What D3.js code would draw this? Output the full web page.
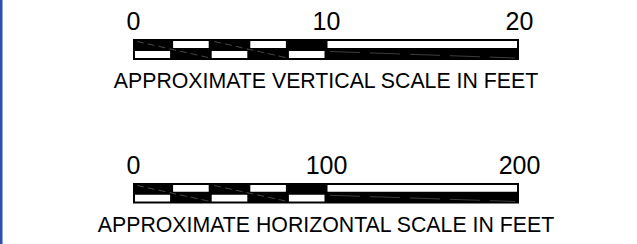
<!DOCTYPE html>
<html>
<head>
<meta charset="utf-8">
<script src="https://cdn.jsdelivr.net/npm/d3@7"></script>
<style>
  body { margin: 0; background: #fff; }
  svg text { font-family: Arial, "Liberation Sans", sans-serif; fill: #000; }
</style>
</head>
<body>
<div id="chart"></div>
<script>
const W = 637, H = 244;

// scale bar data
const verticalTicks = [0, 10, 20];
const verticalDivisions = [0, 2, 4, 6, 8, 10];
const verticalTitle = "APPROXIMATE VERTICAL SCALE IN FEET";

const horizontalTicks = [0, 100, 200];
const horizontalDivisions = [0, 20, 40, 60, 80, 100];
const horizontalTitle = "APPROXIMATE HORIZONTAL SCALE IN FEET";

const svg = d3.select("#chart")
	.append("svg")
	.attr("width", W)
	.attr("height", H);

svg.append("rect")
	.attr("width", W)
	.attr("height", H)
	.attr("fill", "#fff");

// blue frame edge on the left
svg.append("rect")
	.attr("x", 0)
	.attr("y", 0)
	.attr("width", 2.5)
	.attr("height", H)
	.attr("fill", "#2f4fb0");

function drawScaleBar(g, ticks, divisions, title, top, barH) {
	const x = d3.scaleLinear()
		.domain(d3.extent(ticks))
		.range([133, 519]);
	const mid = top + barH / 2;
	const bottom = top + barH;

	// tick labels
	const axis = d3.axisTop(x)
		.tickValues(ticks)
		.tickSize(0)
		.tickPadding(0)
		.tickFormat(d3.format("d"));
	const ax = g.append("g")
		.attr("transform", "translate(0," + (top - 9) + ")")
		.call(axis);
	ax.select(".domain").remove();
	ax.selectAll("text")
		.attr("dy", 0)
		.style("font-family", "Arial, 'Liberation Sans', sans-serif")
		.style("font-size", "25px")
		.attr("fill", "#000");

	// outer black bar
	g.append("rect")
		.attr("x", x(ticks[0]))
		.attr("y", top)
		.attr("width", x(ticks[2]) - x(ticks[0]))
		.attr("height", barH)
		.attr("fill", "#000");

	// alternating white cells in the first half
	const cells = d3.pairs(divisions).map((p, i) => ({a: p[0], b: p[1], i: i}));
	g.selectAll(".cell")
		.data(cells)
		.enter().append("rect")
		.attr("class", "cell")
		.attr("x", d => x(d.a) + (d.i === 0 ? 2 : 1.5))
		.attr("y", d => d.i % 2 === 0 ? mid + 1.5 : top + 2)
		.attr("width", d => x(d.b) - x(d.a) - (d.i === 0 ? 3.5 : 3))
		.attr("height", barH / 2 - 3.5)
		.attr("fill", "#fff");

	// second half: white on top
	g.append("rect")
		.attr("x", x(divisions[divisions.length - 1]) + 1.5)
		.attr("y", top + 2)
		.attr("width", x(ticks[2]) - x(divisions[divisions.length - 1]) - 3.5)
		.attr("height", barH / 2 - 3.5)
		.attr("fill", "#fff");

	// faint hatch lines left in the black cells
	const pairs = [];
	for (let i = 0; i + 2 < divisions.length; i += 2) pairs.push([divisions[i], divisions[i + 2]]);
	g.selectAll(".hatch")
		.data(pairs)
		.enter().append("line")
		.attr("class", "hatch")
		.attr("x1", d => x(d[0]) + 4)
		.attr("y1", top + 2.5)
		.attr("x2", d => x(d[1]) - 2)
		.attr("y2", bottom - 2.5)
		.attr("stroke", "#777")
		.attr("stroke-width", 0.6)
		.attr("stroke-dasharray", "7,4");
	g.append("line")
		.attr("x1", x(divisions[divisions.length - 1]) + 4)
		.attr("y1", mid + 2)
		.attr("x2", x(ticks[2]) - 4)
		.attr("y2", bottom - 2)
		.attr("stroke", "#666")
		.attr("stroke-width", 0.6)
		.attr("stroke-dasharray", "30,10");

	// title
	g.append("text")
		.attr("x", (x.range()[0] + x.range()[1]) / 2)
		.attr("y", bottom + 28)
		.attr("text-anchor", "middle")
		.style("font-size", "21.3px")
		.text(title);
}

drawScaleBar(svg.append("g"), verticalTicks, verticalDivisions, verticalTitle, 39, 21);
drawScaleBar(svg.append("g"), horizontalTicks, horizontalDivisions, horizontalTitle, 183, 20.5);
</script>
</body>
</html>
